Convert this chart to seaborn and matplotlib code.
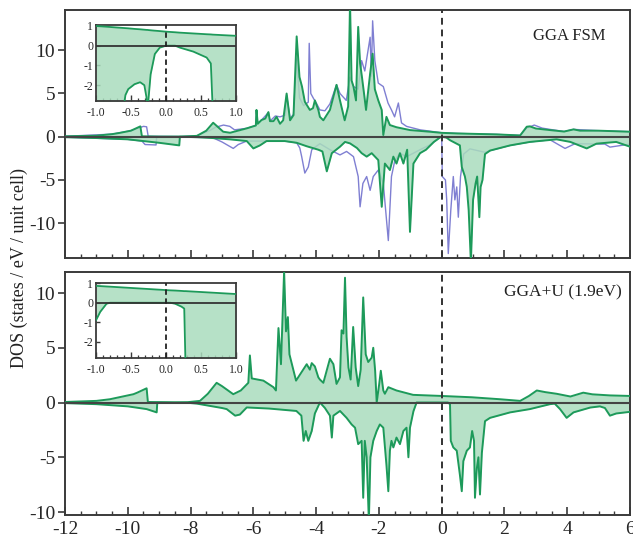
import matplotlib
matplotlib.use("Agg")
import matplotlib.pyplot as plt
from matplotlib.ticker import MultipleLocator
import seaborn as sns
import numpy as np

# ---------------- data ----------------
# GGA FSM, green (spin up)
fsm_up_e = [-12.0, -11.0, -10.5, -10.25, -9.9, -9.6, -9.55, -9.0, -8.3, -7.8, -7.5, -7.28, -6.96, -6.74,
            -6.21, -5.92, -5.9, -5.86, -5.74, -5.62, -5.52, -5.47, -5.36, -5.26, -5.15, -5.05, -4.94,
            -4.83, -4.72, -4.62, -4.53, -4.45, -4.36, -4.2, -4.1, -4.04, -3.93, -3.88, -3.77, -3.56,
            -3.35, -3.24, -3.09, -2.98, -2.92, -2.87, -2.81, -2.73, -2.66, -2.6, -2.54, -2.46, -2.41,
            -2.28, -2.2, -2.13, -2.02, -1.91, -1.86, -1.76, -1.65, -1.44, -1.01, -0.38, 0.0, 0.5,
            1.75, 2.5, 2.71, 2.81, 3.0, 3.45, 3.9, 4.2, 4.41, 5.0, 6.0]
fsm_up_v = [0.05, 0.12, 0.3, 0.45, 0.7, 1.2, 0.05, 0.02, 0.02, 0.1, 0.7, 1.62, 0.58, 0.46,
            0.97, 1.3, 3.1, 1.5, 1.93, 2.1, 2.85, 1.8, 1.8, 2.3, 1.5, 1.9, 5.0,
            1.9, 2.5, 11.6, 6.9, 5.8, 4.05, 3.1, 3.3, 4.2, 3.1, 2.3, 1.9, 3.1,
            6.0, 4.2, 1.9, 3.5, 15.5, 6.5, 5.8, 4.2, 12.7, 8.5, 6.9, 4.6, 3.1,
            7.3, 9.6, 5.5, 4.2, 3.1, 0.2, 2.3, 1.35, 1.1, 0.77, 0.58, 0.45, 0.38,
            0.27, 0.15, 1.16, 1.2, 0.95, 0.77, 0.6, 0.85, 0.7, 0.7, 0.58]
# GGA FSM, green (spin down)
fsm_dn_e = [-12.0, -11.0, -10.0, -9.5, -9.0, -8.36, -8.34, -7.8, -7.3, -6.75, -6.21, -6.0, -5.79, -5.58,
            -5.0, -4.62, -4.3, -3.93, -3.8, -3.66, -3.5, -3.24, -3.08, -2.92, -2.7, -2.55, -2.39,
            -2.23, -2.02, -1.91, -1.81, -1.65, -1.54, -1.44, -1.33, -1.22, -1.1, -1.01, -0.9, -0.69,
            -0.5, -0.25, -0.06, 0.0, 0.15, 0.265, 0.58, 0.64, 0.74, 0.8, 0.86, 0.93, 1.0, 1.08, 1.13,
            1.2, 1.24, 1.3, 1.38, 1.54, 2.18, 2.81, 3.66, 4.1, 4.62, 4.93, 5.56, 6.0]
fsm_dn_v = [-0.05, -0.15, -0.3, -0.5, -0.7, -1.0, 0.0, -0.05, -0.15, -0.3, -0.5, -1.35, -1.0, -0.5,
            -0.5, -0.7, -1.1, -1.5, -1.7, -4.0, -1.9, -1.15, -0.6, -0.77, -1.3, -1.9, -2.3,
            -1.9, -2.7, -8.1, -3.1, -3.85, -2.3, -3.1, -1.9, -3.1, -1.5, -11.0, -3.1, -1.9,
            -1.5, -0.6, -0.1, 0.0, -0.1, -0.4, -1.0, -3.5, -4.6, -5.8, -8.5, -14.5, -7.3, -5.4, -4.6,
            -9.3, -5.8, -5.0, -2.0, -1.6, -1.0, -0.6, -0.3, -0.6, -1.35, -0.8, -0.6, -1.15]
# GGA FSM, blue (spin up)
blue_up_e = [-12.0, -10.5, -9.9, -9.5, -9.4, -9.35, -8.3, -7.8, -7.4, -7.2, -6.95, -6.75, -6.6, -6.21,
             -5.92, -5.9, -5.86, -5.74, -5.52, -5.47, -5.3, -5.15, -4.98, -4.94, -4.83, -4.72, -4.62,
             -4.53, -4.4, -4.25, -4.22, -4.17, -4.08, -3.98, -3.88, -3.72, -3.56, -3.35, -3.24, -3.04,
             -2.92, -2.81, -2.66, -2.55, -2.45, -2.28, -2.24, -2.2, -2.13, -2.02, -1.86, -1.71, -1.6,
             -1.5, -1.38, -1.28, -1.12, -0.69, 0.0, 0.5, 1.75, 2.5, 2.71, 2.95, 3.2, 3.45, 3.9, 4.2,
             5.0, 6.0]
blue_up_v = [0.05, 0.3, 0.7, 1.2, 1.15, 0.05, 0.02, 0.1, 0.7, 1.1, 1.35, 1.2, 0.8, 0.97,
             1.3, 3.0, 1.5, 1.93, 2.8, 1.8, 2.4, 2.3, 2.5, 4.8, 2.1, 2.6, 9.0,
             4.5, 3.6, 4.0, 10.8, 5.0, 4.4, 3.8, 3.1, 3.0, 3.8, 6.0, 5.0, 4.2,
             6.9, 5.8, 5.5, 8.8, 7.6, 11.5, 7.0, 13.4, 8.8, 6.2, 5.8, 3.9, 3.1,
             2.3, 3.9, 1.6, 1.2, 0.8, 0.46, 0.38, 0.27, 0.15, 1.0, 1.35, 1.0, 0.85, 0.6, 0.85,
             0.7, 0.58]
# GGA FSM, blue (spin down)
blue_dn_e = [-12.0, -10.0, -9.55, -9.45, -9.1, -9.08, -8.3, -7.3, -7.0, -6.64, -6.48, -6.21, -5.0, -4.62,
             -4.52, -4.46, -4.36, -4.25, -4.14, -3.88, -3.56, -3.24, -3.03, -2.81, -2.66, -2.6, -2.51,
             -2.39, -2.28, -2.18, -2.02, -1.86, -1.7, -1.6, -1.49, -1.33, -1.12, -0.9, -0.69, -0.38,
             -0.06, 0.0, 0.02, 0.12, 0.16, 0.21, 0.29, 0.37, 0.42, 0.48, 0.53, 0.6, 0.7, 0.9, 1.38,
             1.54, 2.18, 2.81, 3.45, 3.93, 4.25, 5.2, 5.36, 6.0]
blue_dn_v = [-0.05, -0.3, -0.5, -0.9, -0.95, -0.05, -0.05, -0.1, -0.6, -1.35, -0.9, -0.5, -0.5, -0.7,
             -1.3, -2.3, -4.2, -3.5, -1.5, -0.8, -1.5, -2.1, -1.7, -2.3, -4.6, -8.1, -5.4,
             -4.6, -6.2, -4.6, -3.85, -5.4, -12.0, -4.6, -2.7, -1.9, -2.3, -1.9, -1.5, -0.95,
             -0.1, 0.0, -4.6, -5.0, -7.3, -13.5, -8.5, -4.6, -7.3, -5.8, -9.3, -4.6, -2.0, -1.4, -1.8,
             -1.6, -1.0, -0.6, -0.35, -1.35, -0.8, -0.85, -1.2, -0.85]

# GGA+U (1.9 eV), spin up
u_up_e = [-12.0, -11.0, -10.57, -9.82, -9.7, -9.4, -9.36, -8.5, -8.1, -7.7, -7.45, -7.17, -7.0, -6.64,
          -6.4, -6.16, -6.11, -6.05, -5.68, -5.36, -5.28, -5.2, -5.12, -5.02, -4.96, -4.9, -4.85,
          -4.64, -4.3, -4.2, -4.14, -4.04, -3.93, -3.88, -3.77, -3.56, -3.45, -3.35, -3.24, -3.19,
          -3.13, -3.08, -3.03, -2.97, -2.9, -2.82, -2.74, -2.66, -2.58, -2.5, -2.42, -2.34, -2.23,
          -2.18, -2.12, -2.07, -1.99, -1.94, -1.86, -1.81, -1.7, -1.44, -0.91, 0.0, 0.96, 1.86,
          2.5, 2.78, 3.03, 3.3, 3.66, 4.1, 4.51, 4.8, 5.36, 6.0]
u_up_v = [0.05, 0.15, 0.3, 0.76, 0.9, 1.3, 0.05, 0.02, 0.03, 0.15, 0.8, 1.8, 1.5, 0.76,
          1.1, 1.8, 4.3, 2.2, 2.0, 1.4, 1.1, 6.8, 3.5, 12.0, 6.5, 7.8, 4.4,
          2.0, 3.5, 3.0, 3.6, 3.3, 2.3, 2.1, 1.8, 4.0, 3.5, 1.7, 2.3, 6.6,
          6.3, 11.4, 6.0, 3.2, 2.1, 6.9, 3.2, 1.5, 3.0, 9.6, 4.4, 3.7, 4.1,
          5.0, 2.9, 0.0, 1.7, 2.9, 1.1, 0.8, 1.4, 1.1, 0.7, 0.6, 0.48, 0.3,
          0.15, 0.6, 1.1, 0.95, 0.8, 0.55, 0.9, 0.75, 0.65, 0.6]
# GGA+U (1.9 eV), spin down
u_dn_e = [-12.0, -11.0, -10.0, -9.4, -9.08, -9.06, -8.1, -7.8, -7.0, -6.85, -6.58, -6.43, -6.21, -5.5,
          -4.63, -4.47, -4.4, -4.33, -4.25, -4.14, -4.04, -3.88, -3.72, -3.56, -3.5, -3.45, -3.24,
          -3.03, -2.87, -2.76, -2.66, -2.55, -2.5, -2.45, -2.39, -2.32, -2.27, -2.18, -2.07, -1.97,
          -1.86, -1.76, -1.7, -1.65, -1.6, -1.54, -1.44, -1.33, -1.22, -1.12, -1.06, -1.01, -0.9,
          -0.8, 0.2, 0.265, 0.29, 0.37, 0.48, 0.58, 0.64, 0.69, 0.8, 0.9, 0.97, 1.03, 1.06, 1.12,
          1.17, 1.22, 1.28, 1.38, 1.54, 2.18, 2.81, 3.45, 3.6, 3.77, 3.98, 4.2, 4.73, 5.04, 5.2,
          5.36, 5.56, 6.0]
u_dn_v = [-0.05, -0.15, -0.35, -0.6, -0.9, -0.02, -0.02, -0.1, -0.5, -0.6, -1.2, -1.1, -0.45, -0.55,
          -0.77, -1.2, -3.5, -2.6, -3.5, -2.6, -1.0, 0.0, -0.5, -1.2, -3.2, -1.2, -0.77,
          -1.4, -2.0, -2.3, -3.8, -3.5, -8.7, -3.5, -5.0, -10.8, -5.0, -3.5, -2.6, -2.0,
          -2.3, -5.7, -8.1, -4.4, -3.5, -4.1, -3.2, -3.8, -2.6, -2.3, -5.0, -2.3, -0.8,
          0.0, 0.0, -0.15, -3.5, -4.1, -4.4, -6.6, -8.1, -5.35, -4.4, -4.1, -2.6, -3.5, -8.7, -6.0,
          -5.0, -8.4, -4.6, -1.7, -1.4, -0.9, -0.6, -0.15, -0.1, -0.6, -1.4, -0.9, -0.46, -0.35, -0.5,
          -1.2, -1.0, -0.85]

# insets: region around the Fermi level
ins1_e = [-1.0, -0.62, -0.58, -0.54, -0.45, -0.37, -0.31, -0.28, -0.27, -0.22, -0.16, -0.09, 0.0,
          0.13, 0.2, 0.39, 0.58, 0.64, 0.67, 1.0]
ins1_up = [1.0, 0.9, 0.89, 0.88, 0.85, 0.83, 0.81, 0.8, 0.8, 0.78, 0.76, 0.74, 0.71,
           0.68, 0.66, 0.62, 0.58, 0.57, 0.56, 0.5]
ins1_dn = [-3.5, -3.5, -2.5, -2.2, -1.95, -1.85, -2.0, -2.6, -3.5, -1.45, -0.42, -0.1, 0.0,
           0.0, -0.1, -0.3, -0.6, -0.9, -3.5, -3.5]
ins2_e = [-1.0, -0.94, -0.85, -0.8, 0.06, 0.13, 0.22, 0.26, 0.28, 1.0]
ins2_up = [0.87, 0.86, 0.84, 0.83, 0.64, 0.63, 0.61, 0.6, 0.6, 0.45]
ins2_dn = [-0.9, -0.47, -0.05, 0.0, 0.0, -0.05, -0.2, -0.3, -3.5, -3.5]

panel_labels = ["GGA FSM", "GGA+U (1.9eV)"]
x_ticks = [-12, -10, -8, -6, -4, -2, 0, 2, 4, 6]
y_ticks = [-10, -5, 0, 5, 10]
ins_xticks = [-1.0, -0.5, 0.0, 0.5, 1.0]
ins_yticks = [-2, -1, 0, 1]

# ---------------- style ----------------
sns.set_theme(style="ticks")
plt.rcParams['font.family'] = ['Liberation Serif', 'DejaVu Serif']
plt.rcParams['axes.unicode_minus'] = False

GREEN = '#1d9a5a'
FILL = '#a9dcbd'
BLUE = '#7f7fd2'
SPINE = '#3a3a3a'

fig = plt.figure(figsize=(6.33, 5.38), dpi=100)
ax1 = fig.add_axes([0.1027, 0.5204, 0.8926, 0.461])
ax2 = fig.add_axes([0.1027, 0.0428, 0.8926, 0.4516])
in1 = fig.add_axes([0.1517, 0.8123, 0.2212, 0.1413])
in2 = fig.add_axes([0.1517, 0.3346, 0.2212, 0.1394])


def draw(ax, e_up, v_up, e_dn, v_dn, lw=1.4):
    ax.fill_between(e_up, 0, v_up, color=FILL, alpha=0.85, lw=0, zorder=2)
    ax.fill_between(e_dn, 0, v_dn, color=FILL, alpha=0.85, lw=0, zorder=2)
    sns.lineplot(x=e_up, y=v_up, ax=ax, color=GREEN, lw=lw, estimator=None, sort=False, zorder=3)
    sns.lineplot(x=e_dn, y=v_dn, ax=ax, color=GREEN, lw=lw, estimator=None, sort=False, zorder=3)


# blue (drawn first, under the green fill)
sns.lineplot(x=blue_up_e, y=blue_up_v, ax=ax1, color=BLUE, lw=1.0, estimator=None, sort=False, zorder=1)
sns.lineplot(x=blue_dn_e, y=blue_dn_v, ax=ax1, color=BLUE, lw=1.0, estimator=None, sort=False, zorder=1)
draw(ax1, fsm_up_e, fsm_up_v, fsm_dn_e, fsm_dn_v)
draw(ax2, u_up_e, u_up_v, u_dn_e, u_dn_v)
draw(in1, ins1_e, ins1_up, ins1_e, ins1_dn, lw=1.3)
draw(in2, ins2_e, ins2_up, ins2_e, ins2_dn, lw=1.3)

for ax, ylim in [(ax1, (-14.02, 14.65)), (ax2, (-10.27, 11.92))]:
    ax.set_xlim(-12, 6)
    ax.set_ylim(*ylim)
    ax.axhline(0, color='#444444', lw=1.5, zorder=4)
    ax.axvline(0, color='#333333', lw=1.4, ls=(0, (3.5, 2.5)), zorder=4)
    ax.set_xticks(x_ticks)
    ax.xaxis.set_minor_locator(MultipleLocator(0.5))
    ax.set_yticks(y_ticks)
    ax.tick_params(axis='x', which='major', direction='in', length=6, width=1.2, color=SPINE,
                   labelsize=14, pad=4)
    ax.tick_params(axis='x', which='minor', direction='in', length=3, width=1.0, color=SPINE)
    ax.tick_params(axis='y', which='major', direction='out', length=5, width=1.2, color=SPINE,
                   labelsize=14, pad=2)
    ax.set_xlabel('')
    ax.set_ylabel('')
    for s in ax.spines.values():
        s.set_visible(True)
        s.set_color(SPINE)
        s.set_linewidth(1.4)
ax1.tick_params(axis='x', which='both', labelbottom=False)

for ax, ylim in [(in1, (-2.8, 1.05)), (in2, (-2.85, 1.02))]:
    ax.set_xlim(-1, 1)
    ax.set_ylim(*ylim)
    ax.axhline(0, color='#333333', lw=1.3, zorder=4)
    ax.axvline(0, color='#222222', lw=1.3, ls=(0, (3, 2)), zorder=4)
    ax.set_xticks(ins_xticks)
    ax.set_xticklabels(['-1.0', '-0.5', '0.0', '0.5', '1.0'])
    ax.xaxis.set_minor_locator(MultipleLocator(0.1))
    ax.set_yticks(ins_yticks)
    ax.tick_params(axis='x', which='major', direction='in', length=4, width=1.0, color=SPINE,
                   labelsize=8.5, pad=4)
    ax.tick_params(axis='x', which='minor', direction='in', length=2.5, width=0.9, color=SPINE)
    ax.tick_params(axis='y', which='major', direction='in', length=3, width=1.0, color=SPINE,
                   labelsize=8.5, pad=2)
    ax.set_xlabel('')
    ax.set_ylabel('')
    ax.set_facecolor('white')
    for s in ax.spines.values():
        s.set_visible(True)
        s.set_color(SPINE)
        s.set_linewidth(1.3)

ax1.text(0.956, 0.895, panel_labels[0], transform=ax1.transAxes, ha='right', va='center',
         fontsize=12, color='#222222')
ax2.text(0.986, 0.918, panel_labels[1], transform=ax2.transAxes, ha='right', va='center',
         fontsize=12.5, color='#222222')

fig.text(0.031, 0.502, 'DOS (states / eV / unit cell)', rotation=90, ha='center', va='center',
         fontsize=13, color='#222222')

fig.savefig('out.png', dpi=100)
